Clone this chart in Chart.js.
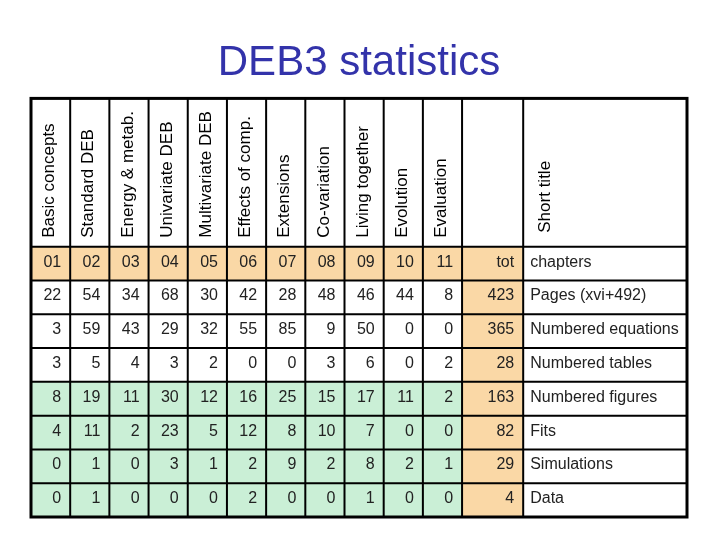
<!DOCTYPE html>
<html>
<head>
<meta charset="utf-8">
<script src="https://cdn.jsdelivr.net/npm/chart.js@4"></script>
<style>
  html, body { margin: 0; background: #fff; }
</style>
</head>
<body>
<canvas id="statsTable" width="720" height="540"></canvas>
<script>
// Chapter numbers and short titles
const chapterNums = ['01', '02', '03', '04', '05', '06', '07', '08', '09', '10', '11'];
const chapterTitles = [
  'Basic concepts', 'Standard DEB', 'Energy & metab.', 'Univariate DEB',
  'Multivariate DEB', 'Effects of comp.', 'Extensions', 'Co-variation',
  'Living together', 'Evolution', 'Evaluation'
];

// Statistics per chapter
const rowLabels = ['Pages (xvi+492)', 'Numbered equations', 'Numbered tables',
  'Numbered figures', 'Fits', 'Simulations', 'Data'];
const pages     = [22, 54, 34, 68, 30, 42, 28, 48, 46, 44, 8];
const equations = [3, 59, 43, 29, 32, 55, 85, 9, 50, 0, 0];
const tables    = [3, 5, 4, 3, 2, 0, 0, 3, 6, 0, 2];
const figures   = [8, 19, 11, 30, 12, 16, 25, 15, 17, 11, 2];
const fits      = [4, 11, 2, 23, 5, 12, 8, 10, 7, 0, 0];
const sims      = [0, 1, 0, 3, 1, 2, 9, 2, 8, 2, 1];
const dataCount = [0, 1, 0, 0, 0, 2, 0, 0, 1, 0, 0];
const totals    = [423, 365, 28, 163, 82, 29, 4];

// layout in scale units: one chapter column = 1 unit, one row = 1 unit
const TOT_LEFT = 11, LABEL_LEFT = 12.56, RIGHT = 16.74;
const HEADER_TOP = -4.39;
const FONT = "'Liberation Sans', Arial, sans-serif";
const PEACH = '#FAD8A6', GREEN = '#CAEFD6';

const tablePlugin = {
  id: 'tablePlugin',
  afterDraw(chart) {
    const { ctx, scales: { x, y } } = chart;
    const px = v => x.getPixelForValue(v);
    const py = v => y.getPixelForValue(v);
    const valueRows = [pages, equations, tables, figures, fits, sims, dataCount];

    ctx.save();

    // cell fills
    const fillCell = (x0, x1, r, color) => {
      ctx.fillStyle = color;
      ctx.fillRect(px(x0), py(r), px(x1) - px(x0), py(r + 1) - py(r));
    };
    fillCell(0, TOT_LEFT, 0, PEACH);
    for (let r = 0; r < 8; r++) fillCell(TOT_LEFT, LABEL_LEFT, r, PEACH);
    for (let r = 4; r < 8; r++) fillCell(0, TOT_LEFT, r, GREEN);

    // rotated headers
    ctx.fillStyle = '#000';
    ctx.font = '17px ' + FONT;
    ctx.textAlign = 'left';
    ctx.textBaseline = 'middle';
    const headerText = (txt, cx, bottom) => {
      ctx.save();
      ctx.translate(cx, bottom);
      ctx.rotate(-Math.PI / 2);
      ctx.fillText(txt, 0, 0);
      ctx.restore();
    };
    chapterTitles.forEach((t, i) => headerText(t, px(i + 0.5) - 1, py(0) - 9));
    headerText('Short title', px(LABEL_LEFT) + 22, py(0) - 14);

    // body text
    ctx.font = '16px ' + FONT;
    ctx.textBaseline = 'alphabetic';
    const rowBase = r => (py(r) + py(r + 1)) / 2 + 3;
    ctx.fillStyle = '#222';
    ctx.textAlign = 'right';
    chapterNums.forEach((n, i) => ctx.fillText(n, px(i + 1) - 9, rowBase(0)));
    ctx.fillText('tot', px(LABEL_LEFT) - 9, rowBase(0));
    valueRows.forEach((vals, k) => {
      vals.forEach((v, i) => ctx.fillText(String(v), px(i + 1) - 9, rowBase(k + 1)));
      ctx.fillText(String(totals[k]), px(LABEL_LEFT) - 9, rowBase(k + 1));
    });
    ctx.textAlign = 'left';
    ctx.fillText('chapters', px(LABEL_LEFT) + 7, rowBase(0));
    rowLabels.forEach((l, k) => ctx.fillText(l, px(LABEL_LEFT) + 7, rowBase(k + 1)));

    // grid lines
    ctx.strokeStyle = '#000';
    ctx.lineWidth = 2;
    ctx.beginPath();
    const vEdges = [];
    for (let i = 1; i <= 11; i++) vEdges.push(i);
    vEdges.push(LABEL_LEFT);
    vEdges.forEach(v => {
      ctx.moveTo(px(v), py(HEADER_TOP));
      ctx.lineTo(px(v), py(8));
    });
    for (let r = 0; r < 8; r++) {
      ctx.moveTo(px(0), py(r));
      ctx.lineTo(px(RIGHT), py(r));
    }
    ctx.stroke();

    ctx.lineWidth = 3;
    ctx.strokeRect(px(0), py(HEADER_TOP), px(RIGHT) - px(0), py(8) - py(HEADER_TOP));
    ctx.restore();
  }
};

const ctx = document.getElementById('statsTable').getContext('2d');
new Chart(ctx, {
  type: 'scatter',
  data: { datasets: [] },
  options: {
    responsive: false,
    animation: false,
    layout: { padding: { left: 31, right: 33, top: 0, bottom: 23 } },
    scales: {
      x: { type: 'linear', min: 0, max: RIGHT, display: false },
      y: { type: 'linear', min: HEADER_TOP, max: 8, reverse: true, display: false }
    },
    plugins: {
      legend: { display: false },
      tooltip: { enabled: false },
      title: {
        display: true,
        text: 'DEB3 statistics',
        color: '#3333AA',
        font: { size: 42, family: FONT, weight: 'normal', lineHeight: 1.2 },
        padding: { top: 38, bottom: 10 }
      }
    }
  },
  plugins: [tablePlugin]
});
</script>
</body>
</html>
